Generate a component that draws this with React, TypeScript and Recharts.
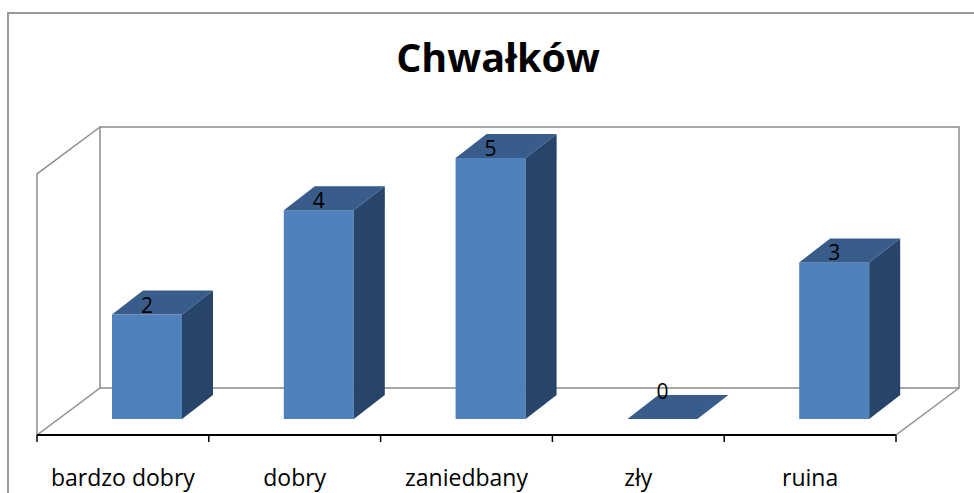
import React from "react";
import { BarChart, Bar, XAxis, YAxis, ReferenceArea, LabelList } from "recharts";

const categories = ["bardzo dobry", "dobry", "zaniedbany", "zły", "ruina"];
const counts = [2, 4, 5, 0, 3];
const yTicks = [0, 1, 2, 3, 4, 5];

const data = categories.map((name, i) => ({ name, value: counts[i] }));

// pseudo-3D offsets
const WALL_DX = 63;
const WALL_DY = -47;
const BAR_DX = 24;
const BAR_DY = -16;
const SIDE_DX = 31;
const SIDE_DY = -24;

const FONT = "'Open Sans', 'Noto Sans', sans-serif";
const WALL = "#8c8c8c";

function Frame(props: any) {
  const { x, y, width, height } = props;
  const b = y + height;
  const r = x + width;
  const step = width / categories.length;
  return (
    <g>
      <rect x={x + WALL_DX} y={y + WALL_DY} width={width} height={height} fill="none" stroke={WALL} strokeWidth={1.5} />
      <polyline
        points={`${x + WALL_DX},${y + WALL_DY} ${x},${y} ${x},${b} ${x + WALL_DX},${b + WALL_DY}`}
        fill="none"
        stroke={WALL}
        strokeWidth={1.5}
      />
      <line x1={r} y1={b} x2={r + WALL_DX} y2={b + WALL_DY} stroke={WALL} strokeWidth={1.5} />
      {categories.concat([""]).map((_, i) => (
        <line key={i} x1={x + i * step} y1={b} x2={x + i * step} y2={b + 7} stroke="#000" strokeWidth={1.5} />
      ))}
    </g>
  );
}

function Box3D(props: any) {
  const { x, y, width, height } = props;
  const fx = x + BAR_DX;
  const fy = y + BAR_DY;
  const h = Math.max(height, 0);
  const top = `${fx},${fy} ${fx + SIDE_DX},${fy + SIDE_DY} ${fx + width + SIDE_DX},${fy + SIDE_DY} ${fx + width},${fy}`;
  const side = `${fx + width},${fy} ${fx + width + SIDE_DX},${fy + SIDE_DY} ${fx + width + SIDE_DX},${fy + h + SIDE_DY} ${fx + width},${fy + h}`;
  return (
    <g>
      {h > 0 && <rect x={fx} y={fy} width={width} height={h} fill="#4f81bd" />}
      {h > 0 && <polygon points={side} fill="#27446a" />}
      <polygon points={top} fill="#385d8a" />
    </g>
  );
}

function ValueLabel(props: any) {
  const { x, y, width, value } = props;
  const lift = value === 0 ? 20 : 2;
  return (
    <text
      x={x + BAR_DX + width / 2}
      y={y + BAR_DY - lift}
      textAnchor="middle"
      fontSize={21}
      fontFamily={FONT}
      fill="#000"
    >
      {value}
    </text>
  );
}

export default function App() {
  return (
    <div style={{ position: "absolute", left: 0, top: 0, width: 974, height: 493, overflow: "hidden", background: "#fff", fontFamily: FONT }}>
      <div style={{ position: "absolute", left: 7, top: 12, width: 1000, height: 600, border: "2px solid #9a9a9a" }} />
      <div
        style={{
          position: "absolute",
          left: 0,
          top: 37,
          width: 996,
          textAlign: "center",
          fontSize: 39.5,
          lineHeight: "40px",
          fontWeight: 700,
          color: "#000",
        }}
      >
        Chwałków
      </div>
      <div style={{ position: "absolute", left: 0, top: 0 }}>
        <BarChart width={974} height={493} data={data} margin={{ top: 174, right: 78, bottom: 0, left: 37 }}>
          <ReferenceArea y1={0} y2={5} fill="none" stroke="none" shape={<Frame />} />
          <XAxis
            dataKey="name"
            height={58}
            axisLine={{ stroke: "#000", strokeWidth: 2 }}
            tickLine={false}
            tickSize={7}
            tickMargin={28}
            tick={{ fontSize: 23, fill: "#000", fontFamily: FONT }}
          />
          <YAxis hide domain={[0, 5]} ticks={yTicks} />
          <Bar dataKey="value" barSize={70} shape={<Box3D />} isAnimationActive={false}>
            <LabelList dataKey="value" content={<ValueLabel />} />
          </Bar>
        </BarChart>
      </div>
    </div>
  );
}
